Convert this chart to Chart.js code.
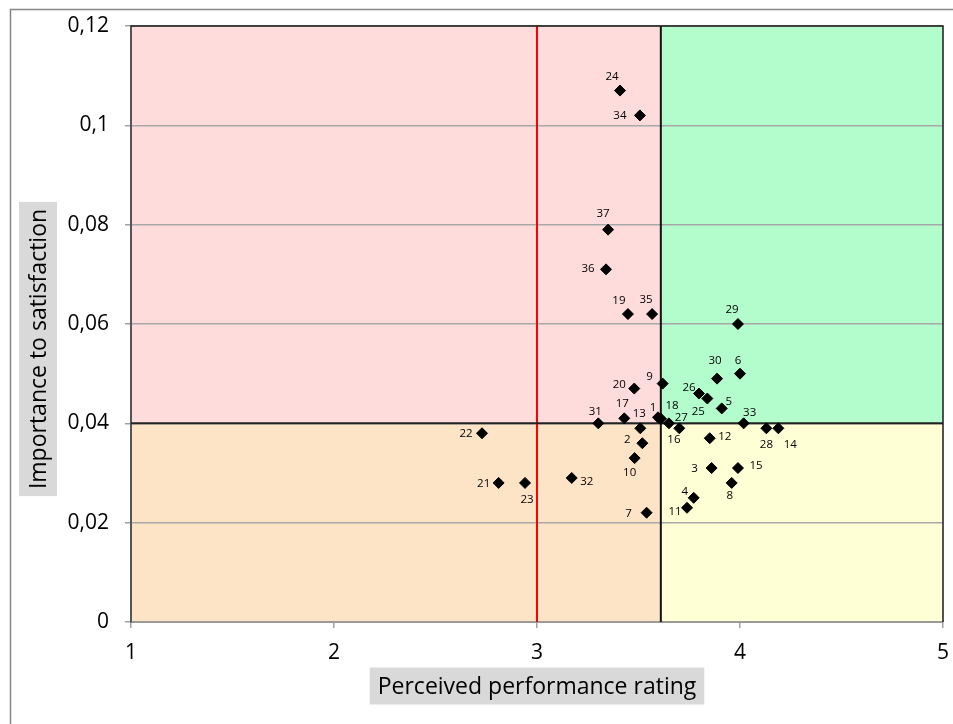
<!DOCTYPE html>
<html>
<head>
<meta charset="utf-8">
<script src="https://cdn.jsdelivr.net/npm/chart.js@4"></script>
<style>
  html, body { margin: 0; padding: 0; background: #fff; }
  #wrap { width: 953px; height: 724px; }
</style>
</head>
<body>
<div id="wrap"><canvas id="c" width="953" height="724"></canvas></div>
<script>
/* importance vs performance scatter, 4 quadrants */
const ids = [1, 2, 3, 4, 5, 6, 7, 8, 9, 10, 11, 12, 13, 14, 15, 16, 17, 18, 19,
  20, 21, 22, 23, 24, 25, 26, 27, 28, 29, 30, 31, 32, 33, 34, 35, 36, 37];
const perf = [3.596, 3.519, 3.860, 3.772, 3.910, 4.000, 3.540, 3.959, 3.619, 3.481,
  3.739, 3.851, 3.509, 4.189, 3.990, 3.650, 3.430, 3.611, 3.448, 3.479,
  2.811, 2.729, 2.941, 3.409, 3.839, 3.798, 3.701, 4.130, 3.990, 3.887,
  3.302, 3.171, 4.018, 3.507, 3.567, 3.340, 3.350];
const importance = [0.0412, 0.036, 0.031, 0.025, 0.043, 0.050, 0.022, 0.028, 0.048, 0.033,
  0.023, 0.037, 0.039, 0.039, 0.031, 0.040, 0.041, 0.0409, 0.062, 0.047,
  0.028, 0.038, 0.028, 0.107, 0.045, 0.046, 0.039, 0.039, 0.060, 0.049,
  0.040, 0.029, 0.040, 0.102, 0.062, 0.071, 0.079];
const perfCut = 3.61;     // black vertical line
const impCut = 0.04;      // black horizontal line
const perfTarget = 3.0;   // red line
const xTicks = [1, 2, 3, 4, 5];
const yTicks = [0, 0.02, 0.04, 0.06, 0.08, 0.1, 0.12];

// where each point's number sits, relative to the marker (px)
const labelOffsets = {
  1: [-5, -10], 2: [-15, -3], 3: [-17, 1], 4: [-9, -6], 5: [7, -7], 6: [-2, -13],
  7: [-18, 1], 8: [-2, 13], 9: [-13, -7], 10: [-5, 15], 11: [-12, 4], 12: [15, -2],
  13: [-1, -15], 14: [12, 16], 15: [18, -2], 16: [5, 16], 17: [-2, -15], 18: [11, -13],
  19: [-9, -13], 20: [-15, -4], 21: [-15, 1], 22: [-16, 0], 23: [2, 17], 24: [-8, -14],
  25: [-9, 13], 26: [-10, -6], 27: [2, -11], 28: [0, 16], 29: [-6, -14], 30: [-2, -18],
  31: [-3, -12], 32: [15, 4], 33: [6, -11], 34: [-20, 0], 35: [-6, -14], 36: [-18, -1],
  37: [-5, -16],
};

const FONT = "'Open Sans', sans-serif";

const quadrantPlugin = {
  id: 'quadrants',
  beforeDraw(chart) {
    const { ctx, chartArea: a, scales: { x, y } } = chart;
    const cx = x.getPixelForValue(perfCut);
    const cy = y.getPixelForValue(impCut);
    ctx.save();
    ctx.fillStyle = '#ffdcdc'; ctx.fillRect(a.left, a.top, cx - a.left, cy - a.top);
    ctx.fillStyle = '#b3fdcc'; ctx.fillRect(cx, a.top, a.right - cx, cy - a.top);
    ctx.fillStyle = '#fee4c7'; ctx.fillRect(a.left, cy, cx - a.left, a.bottom - cy);
    ctx.fillStyle = '#ffffd6'; ctx.fillRect(cx, cy, a.right - cx, a.bottom - cy);
    // outer chart frame
    ctx.strokeStyle = '#858585'; ctx.lineWidth = 1.5;
    ctx.beginPath();
    ctx.moveTo(10.5, 730); ctx.lineTo(10.5, 9.5); ctx.lineTo(960, 9.5);
    ctx.stroke();
    ctx.restore();
  },
  afterDraw(chart) {
    const { ctx, chartArea: a } = chart;
    ctx.save();
    // plot frame top / right
    ctx.strokeStyle = '#1a1a1a'; ctx.lineWidth = 1.5;
    ctx.beginPath();
    ctx.moveTo(a.left, a.top); ctx.lineTo(a.right, a.top); ctx.lineTo(a.right, a.bottom);
    ctx.stroke();

    // point numbers
    const meta = chart.getDatasetMeta(0);
    ctx.fillStyle = '#000';
    ctx.font = '11.5px ' + FONT;
    ctx.textAlign = 'center';
    ctx.textBaseline = 'middle';
    meta.data.forEach((pt, i) => {
      const off = labelOffsets[ids[i]] || [0, -12];
      ctx.fillText(String(ids[i]), pt.x + off[0], pt.y + off[1]);
    });

    // axis titles with grey boxes
    ctx.font = '23px ' + FONT;
    const xt = 'Perceived performance rating';
    const xw = ctx.measureText(xt).width + 16;
    const xc = (a.left + a.right) / 2, xy = a.bottom + 64;
    ctx.fillStyle = '#d9d9d9';
    ctx.fillRect(xc - xw / 2, xy - 18.5, xw, 37);
    ctx.fillStyle = '#000';
    ctx.fillText(xt, xc, xy + 1);

    const yt = 'Importance to satisfaction';
    const yw = ctx.measureText(yt).width + 14;
    const yx = 38, yc = (a.top + a.bottom) / 2 + 25;
    ctx.fillStyle = '#d9d9d9';
    ctx.fillRect(yx - 19, yc - yw / 2, 38, yw);
    ctx.translate(yx, yc);
    ctx.rotate(-Math.PI / 2);
    ctx.fillStyle = '#000';
    ctx.fillText(yt, 0, 1);
    ctx.restore();
  }
};

const fmt = v => Number(v.toFixed(2)).toString().replace('.', ',');

new Chart(document.getElementById('c').getContext('2d'), {
  type: 'scatter',
  data: {
    datasets: [
      {
        data: ids.map((id, i) => ({ x: perf[i], y: importance[i] })),
        pointStyle: 'rectRot',
        pointRadius: 5.5,
        pointBackgroundColor: '#000',
        pointBorderColor: '#000',
        pointBorderWidth: 1,
      },
      {
        data: [{ x: perfCut, y: yTicks[0] }, { x: perfCut, y: yTicks[yTicks.length - 1] }],
        showLine: true, pointRadius: 0, borderColor: '#111', borderWidth: 2,
      },
      {
        data: [{ x: xTicks[0], y: impCut }, { x: xTicks[xTicks.length - 1], y: impCut }],
        showLine: true, pointRadius: 0, borderColor: '#222', borderWidth: 2,
      },
      {
        data: [{ x: perfTarget, y: yTicks[0] }, { x: perfTarget, y: yTicks[yTicks.length - 1] }],
        showLine: true, pointRadius: 0, borderColor: '#ff0000', borderWidth: 2,
      },
    ],
  },
  options: {
    responsive: false,
    animation: false,
    layout: { padding: { top: 26, right: 10, left: 0, bottom: 0 } },
    plugins: { legend: { display: false }, tooltip: { enabled: false } },
    scales: {
      x: {
        type: 'linear', min: 1, max: 5,
        afterBuildTicks: s => { s.ticks = xTicks.map(v => ({ value: v })); },
        afterFit: s => { s.height = 102; s.paddingLeft = 0; s.paddingRight = 0; },
        grid: { drawOnChartArea: false, drawTicks: true, tickLength: 6, tickColor: '#a0a0a0', lineWidth: 1.5 },
        border: { color: '#9a9a9a', width: 2 },
        ticks: { color: '#000', padding: 12, font: { family: FONT, size: 21 } },
      },
      y: {
        type: 'linear', min: 0, max: 0.12,
        afterBuildTicks: s => { s.ticks = yTicks.map(v => ({ value: v })); },
        afterFit: s => { s.width = 131; s.paddingTop = 0; s.paddingBottom = 0; },
        grid: { color: '#a8a8a8', lineWidth: 1.5, tickLength: 6, tickColor: '#a0a0a0' },
        border: { color: '#555', width: 2 },
        ticks: { color: '#000', padding: 16, font: { family: FONT, size: 21 }, callback: v => fmt(v) },
      },
    },
  },
  plugins: [quadrantPlugin],
});
</script>
</body>
</html>
